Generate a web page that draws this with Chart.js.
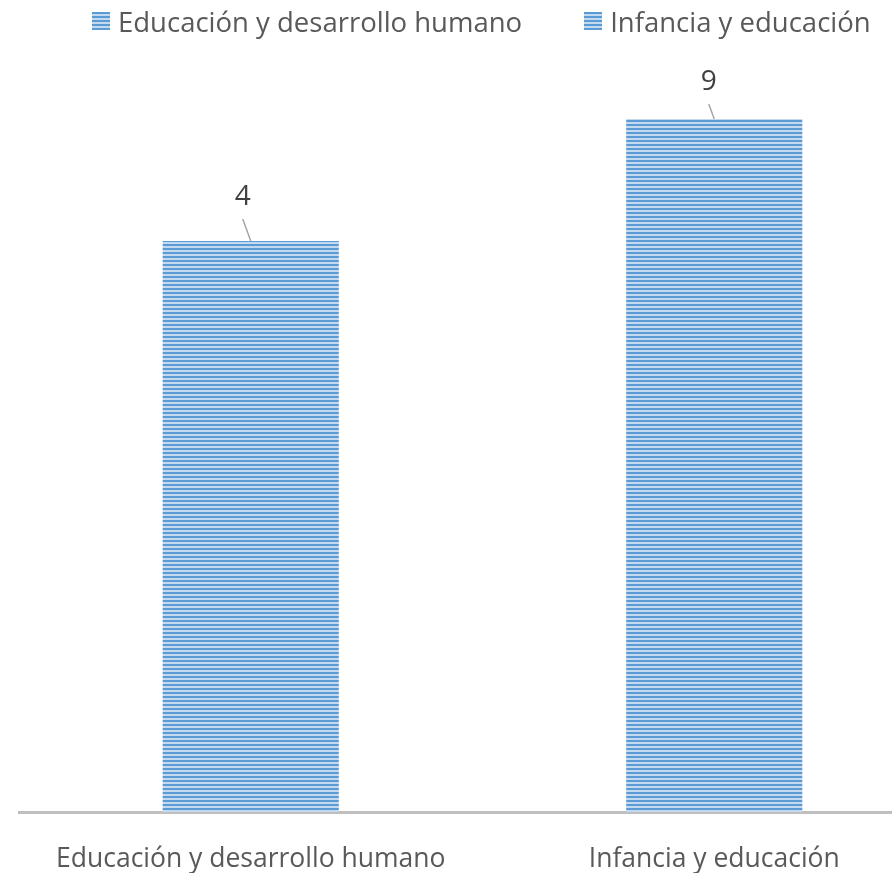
<!DOCTYPE html>
<html>
<head>
<meta charset="utf-8">
<script src="https://cdn.jsdelivr.net/npm/chart.js@4.4.1/dist/chart.umd.min.js"></script>
<style>
  html, body { margin: 0; padding: 0; background: #fff; overflow: hidden; }
  #wrap { position: relative; width: 946px; height: 873px; }
  #legend {
    position: absolute; top: 0; left: 92px; height: 42px;
    display: flex; align-items: center;
    font: 27.5px "Open Sans", sans-serif; color: #595959; white-space: nowrap;
  }
  .item { display: flex; align-items: center; margin-right: 62px; }
  .swatch {
    width: 18px; height: 18px; margin-right: 8px;
    background: repeating-linear-gradient(to bottom, #5b9bd5 0 2px, #c3d9ef 2px 4px);
  }
</style>
</head>
<body>
<div id="wrap">
  <div id="legend"></div>
  <canvas id="chart" width="946" height="873"></canvas>
</div>
<script>
const categories = ["Educación y desarrollo humano", "Infancia y educación"];
const values = [4, 9];
// value axis range (bars start at the axis floor)
const axisMin = -19.4;
const axisMax = 11.42;

// label position relative to the top centre of each bar
const labelOffsets = [[-8, -44], [-5.5, -37]];

function stripes() {
  const tile = document.createElement("canvas");
  tile.width = 4;
  tile.height = 4;
  const t = tile.getContext("2d");
  t.fillStyle = "#c3d9ef";
  t.fillRect(0, 0, 4, 4);
  t.fillStyle = "#5b9bd5";
  t.fillRect(0, 0, 4, 2);
  return t.createPattern(tile, "repeat");
}

const legend = document.getElementById("legend");
categories.forEach((name) => {
  const item = document.createElement("div");
  item.className = "item";
  const box = document.createElement("span");
  box.className = "swatch";
  const text = document.createElement("span");
  text.textContent = name;
  item.append(box, text);
  legend.appendChild(item);
});

const leaders = {
  id: "leaders",
  afterDatasetsDraw(chart) {
    const ctx = chart.ctx;
    chart.getDatasetMeta(0).data.forEach((bar, i) => {
      const [dx, dy] = labelOffsets[i];
      const lx = bar.x + dx;
      const ly = bar.y + dy;
      ctx.save();
      ctx.strokeStyle = "#a6a6a6";
      ctx.lineWidth = 1.5;
      ctx.beginPath();
      ctx.moveTo(lx, ly + 22);
      ctx.lineTo(bar.x, bar.y);
      ctx.stroke();
      ctx.fillStyle = "#404040";
      ctx.font = '28px "Open Sans"';
      ctx.textAlign = "center";
      ctx.textBaseline = "middle";
      ctx.fillText(String(values[i]), lx, ly);
      ctx.restore();
    });
  }
};

new Chart(document.getElementById("chart"), {
  type: "bar",
  data: {
    labels: categories,
    datasets: [{
      data: values,
      base: axisMin,
      backgroundColor: stripes(),
      borderWidth: 0,
      categoryPercentage: 1,
      barPercentage: 0.38
    }]
  },
  options: {
    responsive: false,
    animation: false,
    devicePixelRatio: 1,
    layout: { padding: { left: 19, right: 0, top: 60, bottom: 0 } },
    plugins: {
      legend: { display: false },
      tooltip: { enabled: false }
    },
    scales: {
      x: {
        grid: { display: false, drawTicks: false },
        border: { color: "#bfbfbf", width: 3 },
        ticks: {
          color: "#595959",
          padding: 32,
          font: { family: "Open Sans", size: 26.5 }
        },
        afterFit(scale) {
          scale.height = 61;
        }
      },
      y: {
        display: false,
        min: axisMin,
        max: axisMax
      }
    }
  },
  plugins: [leaders]
});
</script>
</body>
</html>
